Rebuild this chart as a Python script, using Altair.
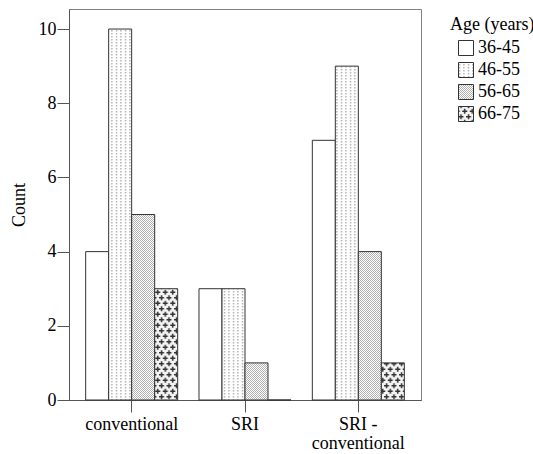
import altair as alt
import pandas as pd

groups = ["conventional", "SRI", "SRI - conventional"]
ages = ["36-45", "46-55", "56-65", "66-75"]
counts_conventional = [4, 10, 5, 3]
counts_sri = [3, 3, 1, 0]
counts_sri_conv = [7, 9, 4, 1]

fills = [
    "white",
    "url(#p4655) #ececec",
    "url(#p5665) #d6d6d6",
    "url(#p6675) #a0a0a0",
]

rows = []
for g, vals in zip(groups, [counts_conventional, counts_sri, counts_sri_conv]):
    for a, v in zip(ages, vals):
        rows.append({"group": g, "age": a, "count": v})
df = pd.DataFrame(rows)

FONT = "Times New Roman, Liberation Serif, serif"

bars = alt.Chart(df).mark_bar(stroke="#333333", strokeWidth=1, strokeJoin="miter").encode(
    x=alt.X("group:N", sort=groups, title=None,
            scale=alt.Scale(paddingInner=0.188, paddingOuter=0.147),
            axis=alt.Axis(labelAngle=0, tickSize=12, labelPadding=3,
                          labelFont=FONT, labelFontSize=18, labelColor="black",
                          labelExpr="datum.value == 'SRI - conventional' ? ['SRI -', 'conventional'] : datum.label",
                          labelLineHeight=19)),
    xOffset=alt.XOffset("age:N", sort=ages, scale=alt.Scale(paddingInner=0, paddingOuter=0)),
    y=alt.Y("count:Q", title="Count",
            scale=alt.Scale(domain=[0, 10.54], nice=False),
            axis=alt.Axis(values=[0, 2, 4, 6, 8, 10], tickSize=12, labelPadding=1,
                          labelFont=FONT, labelFontSize=18, labelColor="black",
                          titleFont=FONT, titleFontSize=18, titleColor="black",
                          titleFontWeight="normal",
                          grid=False, titlePadding=10)),
    fill=alt.Fill("age:N", sort=ages, title="Age (years)",
                  scale=alt.Scale(domain=ages, range=fills),
                  legend=alt.Legend(orient="none", legendX=381, legendY=7,
                                    symbolType="square", symbolSize=225,
                                    symbolStrokeColor="#333333", symbolStrokeWidth=1,
                                    symbolOffset=7, labelOffset=3,
                                    labelFont=FONT, labelFontSize=18, labelColor="black",
                                    titleFont=FONT, titleFontSize=18, titleColor="black",
                                    titleFontWeight="normal",
                                    titlePadding=5, rowPadding=2)),
)

chart = bars.properties(
    width=352, height=391,
    autosize=alt.AutoSizeParams(type="none"),
    padding={"left": 69, "top": 9, "right": 112, "bottom": 54},
).configure(
    font=FONT,
    background="white",
).configure_view(
    stroke="#808080", strokeWidth=1,
).configure_axis(
    labelFont=FONT, titleFont=FONT, labelFontSize=18, titleFontSize=18,
    labelColor="black", titleColor="black", titleFontWeight="normal",
    domainColor="#555555", tickColor="#555555", domainWidth=1, tickWidth=1,
).configure_legend(
    labelFont=FONT, titleFont=FONT, labelFontSize=18, titleFontSize=18,
    labelColor="black", titleColor="black", titleFontWeight="normal",
)

DEFS = """<svg width="0" height="0" style="position:absolute;left:0;top:0" aria-hidden="true">
<defs>
<pattern id="p4655" patternUnits="userSpaceOnUse" width="4.5" height="3">
<rect width="4.5" height="3" fill="white"/>
<rect x="2" y="0" width="1" height="1.5" fill="#8c8c8c"/>
</pattern>
<pattern id="p5665" patternUnits="userSpaceOnUse" width="2" height="2">
<rect width="2" height="2" fill="white"/>
<rect x="0" y="0" width="1" height="1" fill="#b0b0b0"/>
<rect x="1" y="1" width="1" height="1" fill="#b0b0b0"/>
</pattern>
<pattern id="p6675" patternUnits="userSpaceOnUse" width="7.5" height="11">
<rect width="7.5" height="11" fill="#f4f4f4"/>
<path d="M0 2h5v1.5h-5z M1.75 0.25h1.5v5h-1.5z M3.75 7.5h5v1.5h-5z M-3.75 7.5h5v1.5h-5z M5.5 5.75h1.5v5h-1.5z" fill="#333333"/>
</pattern>
</defs>
</svg>"""


class PatternTemplate:
    def render(self, **kw):
        from altair.utils.html import TEMPLATES
        html = TEMPLATES["standard"].render(**kw)
        if "<body>" in html:
            return html.replace("<body>", "<body>" + DEFS, 1)
        return DEFS + html


try:
    chart.save("out.html", embed_options={"renderer": "svg", "actions": False},
               template=PatternTemplate())
except Exception:
    chart.save("out.html", embed_options={"renderer": "svg", "actions": False})
